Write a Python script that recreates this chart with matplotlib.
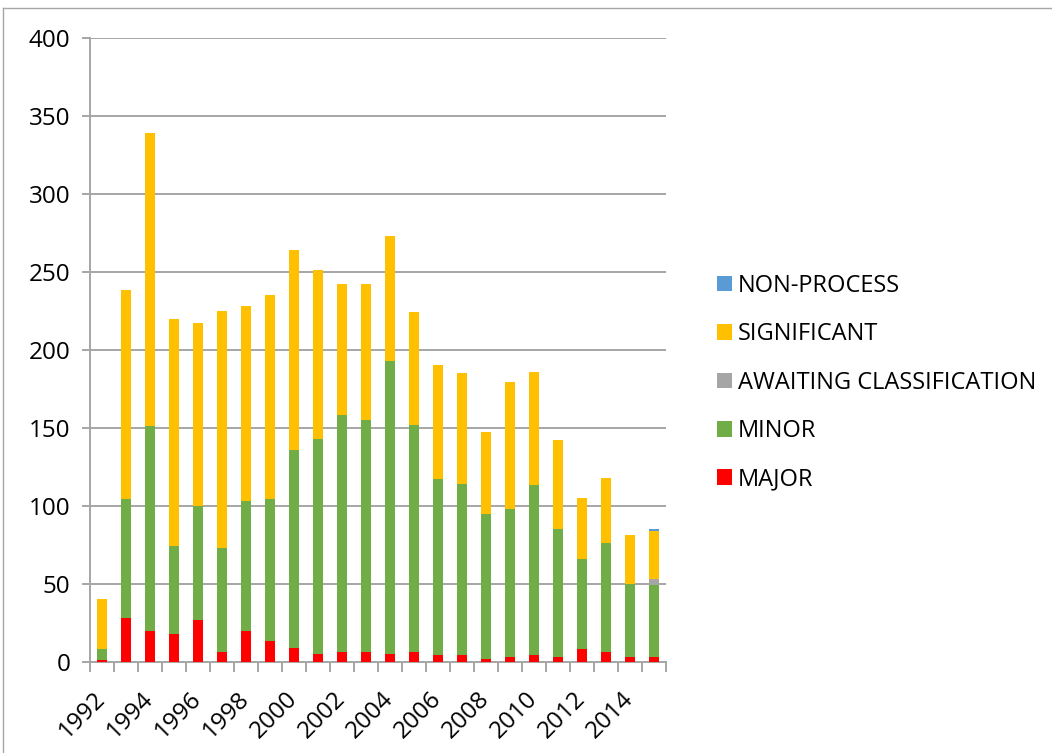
import matplotlib
matplotlib.use("Agg")
import matplotlib.pyplot as plt
import numpy as np
from matplotlib.lines import Line2D
from matplotlib.patches import Patch

years = list(range(1992, 2016))
major = [1, 28, 20, 18, 27, 6, 20, 13, 9, 5, 6, 6, 5, 6, 4, 4, 2, 3, 4, 3, 8, 6, 3, 3]
minor = [7, 76, 131, 56, 73, 67, 83, 91, 127, 138, 152, 149, 188, 146, 113, 110, 93, 95, 109, 82, 58, 70, 47, 46]
awaiting = [0] * 23 + [4]
significant = [32, 134, 188, 146, 117, 152, 125, 131, 128, 108, 84, 87, 80, 72, 73, 71, 52, 81, 73, 57, 39, 42, 31, 31]
non_process = [0] * 23 + [1]

series = [
    ("MAJOR", major, "#FF0000"),
    ("MINOR", minor, "#70AD47"),
    ("AWAITING CLASSIFICATION", awaiting, "#A5A5A5"),
    ("SIGNIFICANT", significant, "#FFC000"),
    ("NON-PROCESS", non_process, "#5B9BD5"),
]

plt.rcParams['font.family'] = ['Open Sans', 'DejaVu Sans']

fig = plt.figure(figsize=(10.52, 7.53), dpi=100)
ax = fig.add_axes([90/1052, 1 - 661.7/753, (666-90)/1052, (661.7-37.7)/753])

x = np.arange(len(years))
bottom = np.zeros(len(years))
for name, vals, col in series:
    v = np.array(vals, dtype=float)
    ax.bar(x, v, width=0.4, bottom=bottom, color=col, label=name, zorder=3)
    bottom += v

ax.set_xlim(-0.5, len(years) - 0.5)
ax.set_ylim(0, 400)
ax.set_yticks(np.arange(0, 401, 50))
ax.yaxis.grid(True, color="#A6A6A6", linewidth=1.4, zorder=0)
ax.set_axisbelow(True)
for s in ["top", "right"]:
    ax.spines[s].set_visible(False)
for s in ["left", "bottom"]:
    ax.spines[s].set_color("#A6A6A6")
    ax.spines[s].set_linewidth(1.4)
ax.tick_params(axis="y", length=6, color="#A6A6A6", width=1.4, labelsize=17.5, pad=8)

ax.set_xticks(x[::2])
ax.set_xticklabels([str(y) for y in years[::2]], rotation=45, ha="right", va="center",
                   rotation_mode="anchor", fontsize=17.5)
ax.tick_params(axis="x", which="major", length=0, pad=24)
ax.set_xticks(np.arange(-0.5, len(years), 1), minor=True)
ax.tick_params(axis="x", which="minor", length=7, color="#A6A6A6", width=1.4)

handles = [Patch(facecolor=c, label=n) for n, _, c in series][::-1]
fs = 17
fs_px = fs * 100 / 72
leg = fig.legend(handles=handles, loc="upper left", bbox_to_anchor=(717/1052, 1 - 274/753),
                 frameon=False, fontsize=fs, handlelength=15/fs_px, handleheight=15/fs_px,
                 handletextpad=6/fs_px, labelspacing=(48 - fs_px)/fs_px, borderpad=0,
                 borderaxespad=0)

# outer border
fig.add_artist(Line2D([3/1052, 3/1052], [0, 1 - 8/753], transform=fig.transFigure, color="#A6A6A6", lw=1))
fig.add_artist(Line2D([3/1052, 1], [1 - 8/753, 1 - 8/753], transform=fig.transFigure, color="#A6A6A6", lw=1))

fig.savefig("out.png", dpi=100)
